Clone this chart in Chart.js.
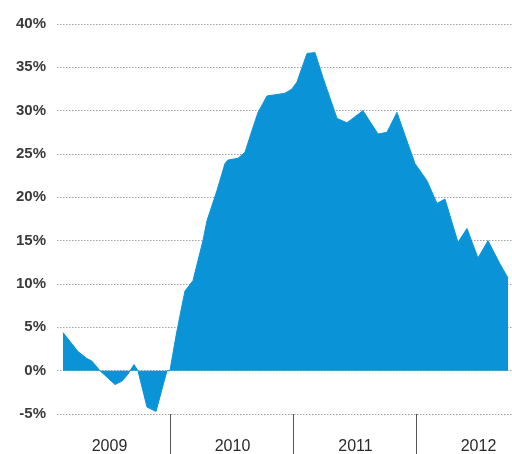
<!DOCTYPE html>
<html>
<head>
<meta charset="utf-8">
<script src="https://cdn.jsdelivr.net/npm/chart.js@4.4.1/dist/chart.umd.min.js"></script>
<style>
  html, body { margin: 0; padding: 0; background: #fff; }
  #wrap { width: 512px; height: 454px; position: relative; }
</style>
</head>
<body>
<div id="wrap"><canvas id="growthChart"></canvas></div>
<script>
// months since Jan 2009 (fractional) and year-on-year change in %
const months = [1.46, 2.93, 3.80, 4.29, 5.07, 6.54, 7.22, 7.80, 8.39, 8.78,
  9.66, 10.54, 11.61, 11.90, 12.49, 13.07, 13.37, 14.15, 15.12, 15.51,
  16.49, 17.27, 17.56, 18.54, 19.22, 19.90, 20.49, 21.37, 23.12, 23.80,
  24.29, 25.27, 26.05, 26.83, 28.20, 29.17, 30.73, 32.20, 33.07, 34.05,
  34.34, 35.80, 36.98, 37.95, 38.73, 40.00, 40.88, 41.95, 42.93, 44.10, 44.88];
const growth = [4.4, 2.2, 1.4, 1.1, 0, -1.6, -1.2, -0.4, 0.7, 0,
  -4.2, -4.7, 0, 0, 4, 7.5, 9.2, 10.4, 15, 17.3,
  20.8, 23.9, 24.3, 24.5, 25.2, 27.7, 29.8, 31.7, 32, 32.5,
  33.3, 36.6, 36.7, 33.8, 29.1, 28.6, 30, 27.3, 27.5, 29.8,
  28.8, 23.9, 21.9, 19.3, 19.8, 14.8, 16.4, 13, 15, 12.3, 10.7];

const years = ["2009", "2010", "2011", "2012"];
const yearMid = [6, 18, 30, 42];
const yearSep = [12, 24, 36];
const yTicks = [-5, 0, 5, 10, 15, 20, 25, 30, 35, 40];

new Chart(document.getElementById("growthChart"), {
  type: "line",
  data: {
    datasets: [{
      data: months.map((m, i) => ({ x: m, y: growth[i] })),
      borderColor: "#0a93d6",
      backgroundColor: "#0a93d6",
      borderWidth: 1,
      pointRadius: 0,
      tension: 0,
      fill: "origin",
    }],
  },
  options: {
    responsive: true,
    maintainAspectRatio: false,
    animation: false,
    events: [],
    layout: { padding: { top: 24, right: 0, bottom: 0, left: 0 } },
    plugins: { legend: { display: false }, tooltip: { enabled: false } },
    scales: {
      x: {
        type: "linear",
        min: 0.88,
        max: 45.27,
        afterBuildTicks: (s) => {
          s.ticks = yearMid.concat(yearSep).sort((a, b) => a - b).map((v) => ({ value: v }));
        },
        afterFit: (s) => { s.height = 40; },
        border: { display: false },
        grid: {
          drawOnChartArea: false,
          drawTicks: true,
          tickLength: 40,
          tickWidth: 1,
          tickColor: (c) => (yearSep.includes(c.tick && c.tick.value) ? "#555" : "rgba(0,0,0,0)"),
        },
        ticks: {
          autoSkip: false,
          maxRotation: 0,
          padding: -17,
          color: "#2a2a2a",
          font: { family: "'Liberation Sans', Arial, sans-serif", size: 16 },
          callback: (v) => {
            const i = yearMid.indexOf(v);
            return i >= 0 ? years[i] : "";
          },
        },
      },
      y: {
        min: -5,
        max: 40,
        afterBuildTicks: (s) => { s.ticks = yTicks.map((v) => ({ value: v })); },
        afterFit: (s) => { s.width = 57; },
        border: { display: false, dash: [1.5, 1.5] },
        grid: {
          drawTicks: false,
          color: "#a0a0a0",
          lineWidth: 1,
        },
        ticks: {
          padding: 11,
          color: "#3a3a3a",
          font: { family: "'Liberation Sans', Arial, sans-serif", size: 15, weight: "bold" },
          callback: (v) => v + "%",
        },
      },
    },
  },
});
</script>
</body>
</html>
